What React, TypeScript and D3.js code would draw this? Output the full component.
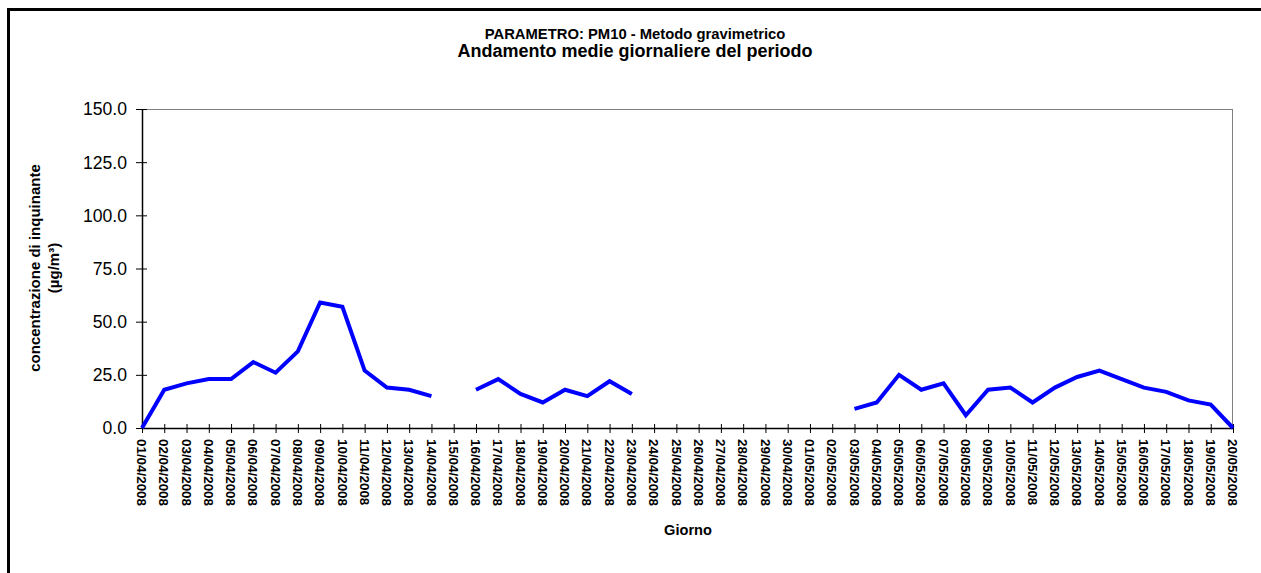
import React from "react";
import * as d3 from "d3";

const aprilDays = d3.range(1, 31).map((d) => `${String(d).padStart(2, "0")}/04/2008`);
const mayDays = d3.range(1, 21).map((d) => `${String(d).padStart(2, "0")}/05/2008`);
const categories: string[] = [...aprilDays, ...mayDays];

const aprilValues: (number | null)[] = [
  0, 18, 21, 23, 23, 31, 26, 36, 59, 57, 27, 19, 18, 15, null,
  18, 23, 16, 12, 18, 15, 22, 16, null, null, null, null, null, null, null,
];
const mayValues: (number | null)[] = [
  null, null, 9, 12, 25, 18, 21, 6, 18, 19, 12, 19, 24, 27, 23, 19, 17, 13, 11, 0,
];
const values: (number | null)[] = [...aprilValues, ...mayValues];

const yTicks = [0, 25, 50, 75, 100, 125, 150];

const title1 = "PARAMETRO: PM10 - Metodo gravimetrico";
const title2 = "Andamento medie giornaliere del periodo";
const yTitle1 = "concentrazione di inquinante";
const yTitle2 = "(µg/m³)";
const xTitle = "Giorno";

const W = 1261;
const H = 573;
const left = 142;
const right = 1233;
const top = 109;
const bottom = 428;
const font = "'Liberation Sans', Arial, sans-serif";

export default function App() {
  const x = d3.scalePoint<string>().domain(categories).range([left, right]);
  const y = d3.scaleLinear().domain([0, 150]).range([bottom, top]);
  const line = d3
    .line<number | null>()
    .defined((d) => d !== null)
    .x((_, i) => x(categories[i]) as number)
    .y((d) => y(d as number));

  return (
    <svg
      width={W}
      height={H}
      style={{ position: "absolute", left: 0, top: 0, background: "#fff" }}
      fontFamily={font}
    >
      <rect x={0} y={0} width={W} height={H} fill="#fff" />
      {/* outer frame */}
      <rect x={8.5} y={9.5} width={W + 20} height={H + 20} fill="none" stroke="#000" strokeWidth={3} />

      {/* titles */}
      <text x={635} y={39} textAnchor="middle" fontSize={14.8} fontWeight="bold" fill="#000">
        {title1}
      </text>
      <text x={635} y={57} textAnchor="middle" fontSize={18} fontWeight="bold" fill="#000">
        {title2}
      </text>

      {/* plot frame: top & right gray */}
      <line x1={left} x2={right} y1={top + 0.5} y2={top + 0.5} stroke="#808080" strokeWidth={1} />
      <line x1={right - 0.5} x2={right - 0.5} y1={top} y2={bottom} stroke="#808080" strokeWidth={1} />

      {/* y axis */}
      <line x1={left + 0.5} x2={left + 0.5} y1={top} y2={bottom} stroke="#000" strokeWidth={1.5} />
      {yTicks.map((t) => (
        <g key={t}>
          <line x1={left - 6} x2={left + 5} y1={y(t) + 0.5} y2={y(t) + 0.5} stroke="#000" strokeWidth={1} />
          <text x={left - 15} y={y(t)} dy="0.36em" textAnchor="end" fontSize={17.6} fill="#000">
            {d3.format(".1f")(t)}
          </text>
        </g>
      ))}

      {/* x axis */}
      <line x1={left} x2={right} y1={bottom + 0.5} y2={bottom + 0.5} stroke="#000" strokeWidth={1.5} />
      {categories.map((c) => {
        const cx = x(c) as number;
        return (
          <g key={c}>
            <line x1={cx + 0.5} x2={cx + 0.5} y1={bottom - 4} y2={bottom + 5} stroke="#000" strokeWidth={1} />
            <text
              transform={`translate(${cx},${bottom + 11}) rotate(90)`}
              dy="0.36em"
              textAnchor="start"
              fontSize={13.4}
              fontWeight="bold"
              fill="#000"
            >
              {c}
            </text>
          </g>
        );
      })}

      {/* axis titles */}
      <text
        transform={`translate(40,268) rotate(-90)`}
        textAnchor="middle"
        fontSize={15}
        fontWeight="bold"
        fill="#000"
      >
        {yTitle1}
      </text>
      <text
        transform={`translate(59,268) rotate(-90)`}
        textAnchor="middle"
        fontSize={15}
        fontWeight="bold"
        fill="#000"
      >
        {yTitle2}
      </text>
      <text x={688} y={535} textAnchor="middle" fontSize={14.6} fontWeight="bold" fill="#000">
        {xTitle}
      </text>

      {/* series */}
      <path d={line(values) ?? ""} fill="none" stroke="#0000FF" strokeWidth={4} />
    </svg>
  );
}
